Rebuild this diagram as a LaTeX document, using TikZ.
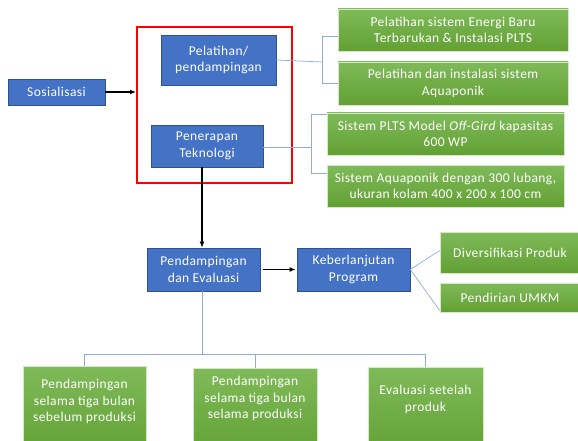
\documentclass[tikz,border=0pt]{standalone}
\usepackage{fontspec}
\setmainfont{Carlito}[LetterSpace=3]
\usepackage{tikz}
\usetikzlibrary{arrows.meta, positioning, calc}
\definecolor{boxblue}{HTML}{4472C4}
\definecolor{edgeblue}{HTML}{2F528F}
\definecolor{lineblue}{HTML}{8FAADC}
\definecolor{greentop}{HTML}{7FBA59}
\definecolor{greenbot}{HTML}{62A033}
\definecolor{greenedge}{HTML}{D5E8C8}

\begin{document}
\begin{tikzpicture}[
  x=1pt, y=1pt,
  font=\fontsize{13.5}{16.5}\selectfont,
  bbox/.style={rectangle, draw=edgeblue, line width=0.6pt, fill=boxblue, text=white, align=center, inner sep=0pt},
  gbox/.style={rectangle, draw=greenedge, line width=0.6pt, top color=greentop, bottom color=greenbot, text=white, align=center, inner sep=0pt},
  gtext/.style={text=white, align=center, inner sep=0pt},
  frame/.style={rectangle, draw=red, line width=2pt, inner sep=0pt},
  arrow/.style={-{Latex[length=6pt, width=5pt]}, line width=1.3pt, draw=black},
  conn/.style={draw=lineblue, line width=0.7pt}
]
  \useasboundingbox (0,0) rectangle (578,-441);
  % input and the red group
  \node[bbox, minimum width=97, minimum height=26] (sos) at (56.5,-92) {Sosialisasi};
  \node[frame, minimum width=155, minimum height=156] (grp) at (214.5,-105) {};
  \node[bbox, minimum width=115, minimum height=50] (pel) at (218.5,-60) {Pelatihan/\\pendampingan};
  \node[bbox, minimum width=112, minimum height=42] (pen) at (207,-146) {Penerapan\\Teknologi};
  % activities on the right
  \node[gbox, minimum width=230, minimum height=42] (g1) at (453,-30) {Pelatihan sistem Energi Baru\\Terbarukan \& Instalasi PLTS};
  \node[gbox, minimum width=230, minimum height=43] (g2) at (453,-83.5) {Pelatihan dan instalasi sistem\\Aquaponik};
  \node[gbox, minimum width=237, minimum height=42] (g3) at (445.5,-134) {Sistem PLTS Model \textit{Off-Gird} kapasitas\\600 WP};
  \node[gbox, minimum width=237, minimum height=42] (g4) at (445.5,-186) {Sistem Aquaponik dengan 300 lubang,\\ukuran kolam 400 x 200 x 100 cm};
  % middle row
  \node[bbox, minimum width=113, minimum height=43] (pde) at (203.5,-269.5) {Pendampingan\\dan Evaluasi};
  \node[bbox, minimum width=113, minimum height=43] (keb) at (353.5,-269.5) {Keberlanjutan\\Program};
  \node[gbox, minimum width=140, minimum height=41] (div) at (510,-252.5) {Diversifikasi Produk};
  \node[gbox, minimum width=140, minimum height=29] (umkm) at (510,-297.5) {Pendirian UMKM};
  % bottom row, cut by the page edge
  \node[gbox, minimum width=123, minimum height=90, anchor=north] (b1) at (84.5,-366) {};
  \node[gbox, minimum width=124, minimum height=90, anchor=north] (b2) at (255,-368) {};
  \node[gbox, minimum width=115, minimum height=90, anchor=north] (b3) at (425.5,-367) {};
  \node[gtext, below=13pt of b1.north] (b1t) {Pendampingan\\selama tiga bulan\\sebelum produksi};
  \node[gtext, below=8pt of b2.north] (b2t) {Pendampingan\\selama tiga bulan\\selama produksi};
  \node[gtext, below=18pt of b3.north] (b3t) {Evaluasi setelah\\produk};
  % junctions
  \coordinate (j1) at (322,-62);
  \coordinate (j2) at (311,-147);
  \coordinate (j3) at (202,-354);

  \draw[arrow] (sos.east) -- (grp.west |- sos.east);
  \draw[arrow] (pen.south -| j3) -- (pde.north -| j3);
  \draw[arrow] (pde.east) ++(3,0) -- ($(keb.west)+(-1,0)$);

  \draw[conn] (pel.east) -- (j1);
  \draw[conn] (j1) |- ([yshift=-6pt]g1.west);
  \draw[conn] (j1) |- (g2.west);
  \draw[conn] (pen.east |- j2) -- (j2);
  \draw[conn] (j2) |- ([yshift=-2pt]g3.north west);
  \draw[conn] (j2) |- ([yshift=13pt]g4.west);
  \draw[conn] (keb.east) -- ([yshift=2pt]div.west);
  \draw[conn] (keb.east) -- ([yshift=-13pt]umkm.west);
  \draw[conn] (pde.south -| j3) -- (j3);
  \draw[conn] (j3) -| (b1.north);
  \draw[conn] (j3) -| (b2.north);
  \draw[conn] (j3) -| (b3.north);
\end{tikzpicture}
\end{document}
